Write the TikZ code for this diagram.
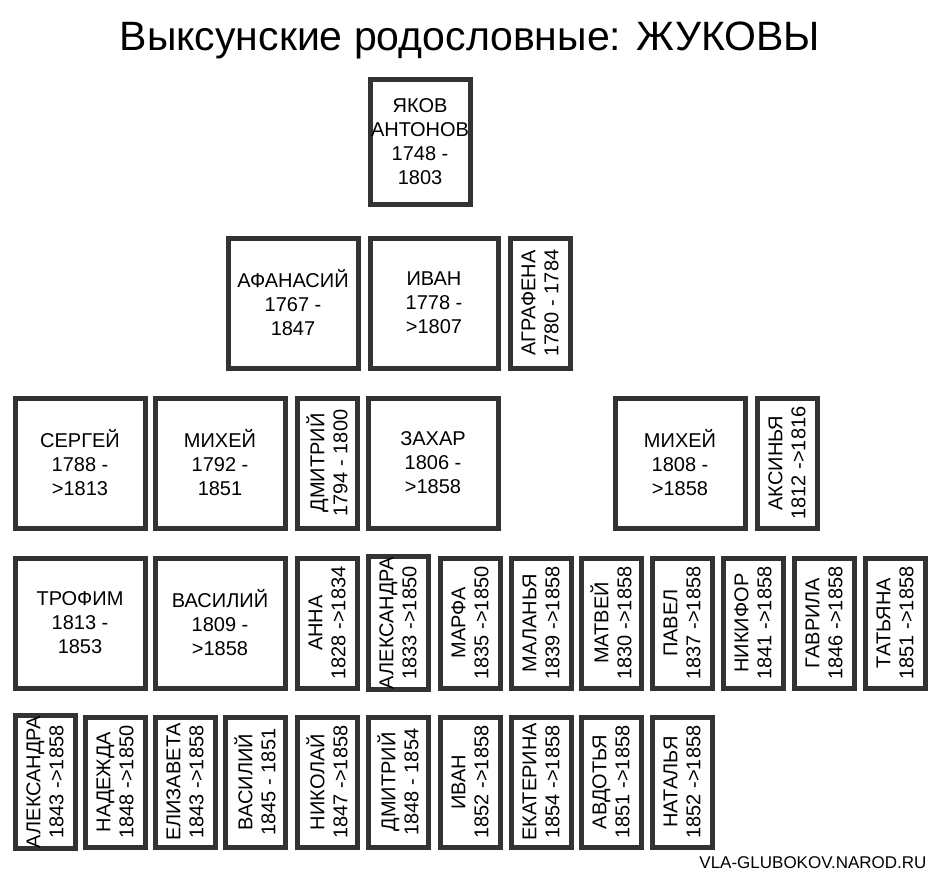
\documentclass[tikz,border=0pt]{standalone}
\usepackage{fontspec}
\setmainfont{Liberation Sans}
\usetikzlibrary{backgrounds}
\definecolor{ln}{HTML}{333333}
\tikzset{
 hbox/.style={draw=ln, fill=white, line width=5pt, minimum width=130pt, minimum height=130pt, align=center, font=\fontsize{20}{24}\selectfont, inner sep=0pt},
 vbox/.style={draw=ln, fill=white, line width=5pt, minimum width=130pt, minimum height=60pt, rotate=90, align=center, font=\fontsize{20}{23}\selectfont, inner sep=0pt},
 con/.style={draw=ln, line width=5pt}
}
\begin{document}
\begin{tikzpicture}[x=1pt,y=-1pt]
\useasboundingbox[fill=white] (0,0) rectangle (941,879);
\node (title) at (470,40) {\fontsize{41}{44}\selectfont Выксунские родословные: ЖУКОВЫ};
\node[anchor=base east, font=\fontsize{17}{20}\selectfont] (site) at (930,868) {VLA-GLUBOKOV.NAROD.RU};
% row 0
\node[hbox, minimum width=100pt, minimum height=125pt] (yak) at (420,142) {ЯКОВ\\АНТОНОВ\\1748 -\\1803};
% row 1
\node[hbox] (afan) at (293,303) {АФАНАСИЙ\\1767 -\\1847};
\node[hbox, minimum width=128pt] (ivan) at (434,303) {ИВАН\\1778 -\\>1807};
\node[vbox] (agr) at (540,303) {АГРАФЕНА\\1780 - 1784};
% row 2
\node[hbox] (serg) at (80,463) {СЕРГЕЙ\\1788 -\\>1813};
\node[hbox] (mixa) at (220,463) {МИХЕЙ\\1792 -\\1851};
\node[vbox] (dmit) at (327,463) {ДМИТРИЙ\\1794 - 1800};
\node[hbox] (zax) at (433,463) {ЗАХАР\\1806 -\\>1858};
\node[hbox] (mixb) at (680,463) {МИХЕЙ\\1808 -\\>1858};
\node[vbox] (aks) at (787,463) {АКСИНЬЯ\\1812 ->1816};
% row 3
\node[hbox] (trof) at (80,623) {ТРОФИМ\\1813 -\\1853};
\node[hbox] (vas) at (220,623) {ВАСИЛИЙ\\1809 -\\>1858};
\node[vbox] (anna) at (327,623) {АННА\\1828 ->1834};
\node[vbox] (alex) at (398,623) {АЛЕКСАНДРА\\1833 ->1850};
\node[vbox] (marfa) at (470,623) {МАРФА\\1835 ->1850};
\node[vbox] (malan) at (541,623) {МАЛАНЬЯ\\1839 ->1858};
\node[vbox] (matv) at (611,623) {МАТВЕЙ\\1830 ->1858};
\node[vbox] (pavel) at (682,623) {ПАВЕЛ\\1837 ->1858};
\node[vbox] (nikif) at (753,623) {НИКИФОР\\1841 ->1858};
\node[vbox] (gavr) at (824,623) {ГАВРИЛА\\1846 ->1858};
\node[vbox] (tat) at (895,623) {ТАТЬЯНА\\1851 ->1858};
% row 4
\node[vbox] (alexb) at (45,782) {АЛЕКСАНДРА\\1843 ->1858};
\node[vbox] (nad) at (115,782) {НАДЕЖДА\\1848 ->1850};
\node[vbox] (eliz) at (185,782) {ЕЛИЗАВЕТА\\1843 ->1858};
\node[vbox] (vasb) at (255,782) {ВАСИЛИЙ\\1845 - 1851};
\node[vbox] (nikol) at (327,782) {НИКОЛАЙ\\1847 ->1858};
\node[vbox] (dmitb) at (398,782) {ДМИТРИЙ\\1848 - 1854};
\node[vbox] (ivanb) at (470,782) {ИВАН\\1852 ->1858};
\node[vbox] (ekat) at (541,782) {ЕКАТЕРИНА\\1854 ->1858};
\node[vbox] (avd) at (611,782) {АВДОТЬЯ\\1851 ->1858};
\node[vbox] (nat) at (682,782) {НАТАЛЬЯ\\1852 ->1858};
\begin{scope}[on background layer]
% yak
\draw[con] (yak.center) -- (ivan.center);
\draw[con] (afan.center) -- (afan.center |- 0,224) -| (agr.center);
% afan
\draw[con] (serg.center) -- (serg.center |- 0,383) -| (aks.center);
\foreach \c in {afan,mixa,dmit,zax,mixb} \draw[con] (\c.center) -- (\c.center |- 0,383);
% serg
\draw[con] (serg.center) -- (serg.center |- 0,543) -| (vas.center);
% zax
\draw[con] (zax.center) -- (zax.center |- 0,543) -| (anna.center);
\draw[con] (alex.center) -- (alex.center |- 0,543);
% mixb
\draw[con] (marfa.center) -- (marfa.center |- 0,543) -| (tat.center);
\foreach \c in {mixb,malan,matv,pavel,nikif,gavr} \draw[con] (\c.center) -- (\c.center |- 0,543);
% trof
\draw[con] (alexb.center) -- (alexb.center |- 0,703) -| (nad.center);
\draw[con] (trof.center) -- (trof.center |- 0,703);
% vas
\draw[con] (eliz.center) -- (eliz.center |- 0,703) -| (ekat.center);
\foreach \c in {vas,vasb,nikol,dmitb,ivanb} \draw[con] (\c.center) -- (\c.center |- 0,703);
% matv
\draw[con] (matv.center) -- (matv.center |- 0,703) -| (nat.center);
\end{scope}
\end{tikzpicture}
\end{document}
